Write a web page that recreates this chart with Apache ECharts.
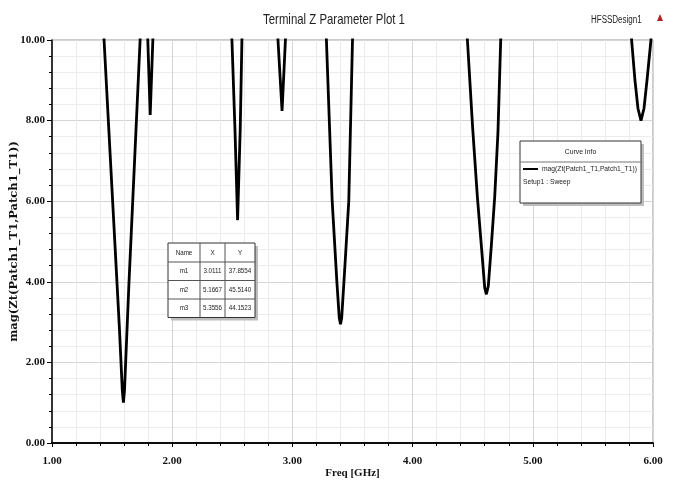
<!DOCTYPE html>
<html lang="en">
<head>
  <meta charset="UTF-8" />
  <title>Terminal Z Parameter Plot 1</title>
  <script src="https://cdn.jsdelivr.net/npm/echarts@6/dist/echarts.min.js"></script>
  <style>
    html, body { margin: 0; padding: 0; background: #fff; }
    #chart { width: 674px; height: 481px; }
  </style>
</head>
<body>
  <div id="chart"></div>
  <script>
    // 曲线数据：频率 (GHz) 与 mag(Zt)，超出 10 的部分被坐标轴裁掉
    const freqGHz = [
      1.00, 1.30, 1.433, 1.50, 1.56, 1.585, 1.594, 1.603, 1.64, 1.69, 1.733,
      1.765, 1.797, 1.817, 1.839, 1.90, 2.20,
      2.497, 2.522, 2.544, 2.566, 2.58, 2.70,
      2.88, 2.914, 2.942, 3.0111, 3.15,
      3.283, 3.331, 3.37, 3.39, 3.40, 3.41, 3.435, 3.469, 3.50, 3.80, 4.20,
      4.456, 4.50, 4.539, 4.58, 4.60, 4.614, 4.63, 4.655, 4.683, 4.71, 4.733,
      4.95, 5.1667, 5.3556, 5.60,
      5.822, 5.85, 5.875, 5.90, 5.925, 5.95, 5.983, 6.00
    ];
    const magZt = [
      30, 22, 10, 6.25, 2.9, 1.3, 1.0, 1.3, 3.95, 7.2, 10,
      18, 10, 8.14, 10, 25, 20,
      10, 7.8, 5.53, 7.8, 10, 22,
      10, 8.24, 10, 37.8554, 20,
      10, 6.0, 4.0, 3.1, 2.95, 3.1, 4.3, 6.0, 10, 25, 20,
      10, 7.8, 6.1, 4.6, 3.85, 3.69, 3.9, 4.9, 6.1, 7.7, 10,
      30, 45.514, 44.1523, 25,
      10, 9.0, 8.3, 8.0, 8.3, 9.0, 10, 13
    ];

    // 标记表
    const markerNames = ['m1', 'm2', 'm3'];
    const markerX = ['3.0111', '5.1667', '5.3556'];
    const markerY = ['37.8554', '45.5140', '44.1523'];

    const curveName = 'mag(Zt(Patch1_T1,Patch1_T1))';
    const setupName = 'Setup1 : Sweep';

    const SANS = '"Liberation Sans", Arial, sans-serif';
    const SERIF = '"Liberation Serif", "Times New Roman", serif';

    // 没有窄体字，用 scaleX 压扁
    function label(x, y, text, size, align, sx) {
      return {
        type: 'text',
        x, y,
        scaleX: sx,
        style: { text, font: size + 'px ' + SANS, fill: '#222', align, verticalAlign: 'middle' },
        z: 20
      };
    }

    function buildMarkerTable() {
      const left = 168, top = 243, colW = [32, 25, 30], headH = 19, rowH = 18.5;
      const width = colW[0] + colW[1] + colW[2];
      const height = headH + rowH * markerNames.length;
      const els = [];
      els.push({ type: 'rect', shape: { x: left + 3, y: top + 3, width, height }, style: { fill: '#bdbdbd' }, z: 18 });
      els.push({ type: 'rect', shape: { x: left, y: top, width, height }, style: { fill: '#fff', stroke: '#333', lineWidth: 1 }, z: 19 });
      const colX = [left, left + colW[0], left + colW[0] + colW[1]];
      colX.slice(1).forEach((cx) => {
        els.push({ type: 'line', shape: { x1: cx, y1: top, x2: cx, y2: top + height }, style: { stroke: '#555', lineWidth: 1 }, z: 20 });
      });
      for (let r = 0; r < markerNames.length; r++) {
        const ly = top + headH + rowH * r;
        els.push({ type: 'line', shape: { x1: left, y1: ly, x2: left + width, y2: ly }, style: { stroke: '#555', lineWidth: 1 }, z: 20 });
      }
      ['Name', 'X', 'Y'].forEach((h, i) => els.push(label(colX[i] + colW[i] / 2, top + headH / 2, h, 8, 'center', 0.78)));
      markerNames.forEach((n, r) => {
        const cy = top + headH + rowH * r + rowH / 2;
        [n, markerX[r], markerY[r]].forEach((t, i) => els.push(label(colX[i] + colW[i] / 2, cy, t, 8, 'center', 0.78)));
      });
      return els;
    }

    function buildCurveInfo() {
      const left = 520, top = 141, width = 121, height = 62;
      return [
        { type: 'rect', shape: { x: left + 3, y: top + 3, width, height }, style: { fill: '#bdbdbd' }, z: 18 },
        { type: 'rect', shape: { x: left, y: top, width, height }, style: { fill: '#fff', stroke: '#333', lineWidth: 1 }, z: 19 },
        label(left + width / 2, top + 11, 'Curve Info', 8, 'center', 0.85),
        { type: 'line', shape: { x1: left, y1: top + 21, x2: left + width, y2: top + 21 }, style: { stroke: '#777', lineWidth: 1 }, z: 20 },
        { type: 'line', shape: { x1: left + 3, y1: top + 28, x2: left + 18, y2: top + 28 }, style: { stroke: '#000', lineWidth: 2 }, z: 20 },
        label(left + 22, top + 28, curveName, 8, 'left', 0.84),
        label(left + 3, top + 41, setupName, 8, 'left', 0.84)
      ];
    }

    const tickLabel = { fontFamily: SERIF, fontWeight: 'bold', fontSize: 11, color: '#111', formatter: (v) => v.toFixed(2) };
    const majorGrid = { show: true, lineStyle: { color: '#d4d4d4', width: 1 } };
    const minorGrid = { show: true, lineStyle: { color: '#ececec', width: 1 } };

    const option = {
      animation: false,
      backgroundColor: '#fff',
      grid: {
        left: 52, right: 21, top: 40, bottom: 38,
        containLabel: false, outerBoundsMode: 'none',
        show: true, borderColor: '#999', borderWidth: 1
      },
      xAxis: [
        {
          type: 'value', min: 1, max: 6, interval: 1,
          name: 'Freq [GHz]', nameLocation: 'middle', nameGap: 25, nameMoveOverlap: false,
          nameTextStyle: { fontFamily: SERIF, fontWeight: 'bold', fontSize: 11, color: '#111' },
          axisLine: { show: true, onZero: false, lineStyle: { color: '#000', width: 1.5 } },
          axisTick: { show: true, length: 4, lineStyle: { color: '#000' } },
          minorTick: { show: true, splitNumber: 5, length: 3, lineStyle: { color: '#000' } },
          axisLabel: Object.assign({ margin: 13 }, tickLabel),
          splitLine: majorGrid,
          minorSplitLine: minorGrid
        },
        {
          type: 'value', min: 1, max: 6, position: 'top',
          axisLine: { show: true, lineStyle: { color: '#000', width: 1.5 } },
          axisTick: { show: false }, axisLabel: { show: false }, splitLine: { show: false }
        }
      ],
      yAxis: {
        type: 'value', min: 0, max: 10, interval: 2,
        name: curveName, nameLocation: 'middle', nameGap: 32, nameMoveOverlap: false,
        nameTextStyle: { fontFamily: '"DejaVu Serif", serif', fontWeight: 'bold', fontSize: 11.5, color: '#111' },
        axisLine: { show: true, lineStyle: { color: '#000', width: 1.5 } },
        axisTick: { show: true, length: 5, lineStyle: { color: '#000' } },
        minorTick: { show: true, splitNumber: 5, length: 3, lineStyle: { color: '#000' } },
        axisLabel: Object.assign({ margin: 7 }, tickLabel),
        splitLine: majorGrid,
        minorSplitLine: minorGrid
      },
      series: [
        {
          name: curveName,
          type: 'line',
          xAxisIndex: 0,
          data: freqGHz.map((f, i) => [f, magZt[i]]),
          symbol: 'none',
          clip: true,
          lineStyle: { color: '#000', width: 2.8 },
          z: 5
        }
      ],
      graphic: [
        label(334, 20, 'Terminal Z Parameter Plot 1', 15, 'center', 0.76),
        label(591, 20, 'HFSSDesign1', 10, 'left', 0.8),
        { type: 'polygon', shape: { points: [[657, 21], [660, 14], [663, 21]] }, style: { fill: '#b22222' } }
      ].concat(buildMarkerTable(), buildCurveInfo())
    };

    const chart = echarts.init(document.getElementById('chart'));
    chart.setOption(option);
  </script>
</body>
</html>
